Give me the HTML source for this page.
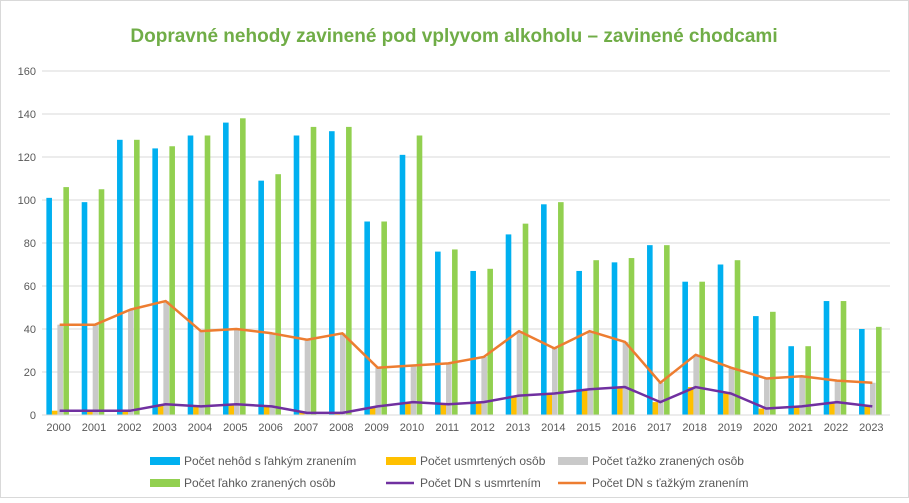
<!DOCTYPE html>
<html><head><meta charset="utf-8"><style>
body{margin:0;background:#fff;font-family:"Liberation Sans",sans-serif;}
svg text{font-family:"Liberation Sans",sans-serif;}
</style></head><body>
<svg id="c" width="909" height="498">
<rect x="0.5" y="0.5" width="908" height="497" fill="#fff" stroke="#d9d9d9"/>
<text x="454" y="42" text-anchor="middle" font-size="19" font-weight="bold" fill="#70ad47">Dopravné nehody zavinené pod vplyvom alkoholu – zavinené chodcami</text>
<g id="grid"></g><g id="bars"></g><g id="lines"></g><g id="axes"></g><g id="legend"></g>
</svg>
<script>
const years=["2000","2001","2002","2003","2004","2005","2006","2007","2008","2009","2010","2011","2012","2013","2014","2015","2016","2017","2018","2019","2020","2021","2022","2023"];
const lightInj=[101,99,128,124,130,136,109,130,132,90,121,76,67,84,98,67,71,79,62,70,46,32,53,40];
const killed=[2,2,2,5,4,5,4,1,1,4,6,5,6,9,10,12,13,6,13,10,3,4,6,4];
const seriousPersons=[42,42,49,53,39,40,38,35,38,22,23,24,27,39,31,39,34,15,28,22,17,18,16,15];
const lightPersons=[106,105,128,125,130,138,112,134,134,90,130,77,68,89,99,72,73,79,62,72,48,32,53,41];
const dnKilled=[2,2,2,5,4,5,4,1,1,4,6,5,6,9,10,12,13,6,13,10,3,4,6,4];
const dnSerious=[42,42,49,53,39,40,38,35,38,22,23,24,27,39,31,39,34,15,28,22,17,18,16,15];
const yTicks=[0,20,40,60,80,100,120,140,160];
const NS="http://www.w3.org/2000/svg";
const L=42,R=890,T=71,B=415,yMax=160;
const bw=(R-L)/years.length;
const y=v=>B-(v/yMax)*(B-T);
const xc=i=>L+bw*(i+0.5);
function mk(tag,attrs,parent){const e=document.createElementNS(NS,tag);for(const k in attrs)e.setAttribute(k,attrs[k]);document.getElementById(parent).appendChild(e);return e;}
yTicks.forEach(t=>{
 const g=mk("line",{x1:L,x2:R,y1:y(t),y2:y(t),stroke:"#d9d9d9","stroke-width":1},"grid");
 
 
 const tx=mk("text",{x:36,y:y(t)+4,"text-anchor":"end","font-size":11,fill:"#595959"},"axes");
 tx.textContent=t;
 
 
});
const series=[[lightInj,"#00b0f0"],[killed,"#ffc000"],[seriousPersons,"#c9c9c9"],[lightPersons,"#92d050"]];
const barW=5.6,offs=[-11.5,-6,-0.5,5.5];
years.forEach((yr,i)=>{
 series.forEach((s,k)=>{
  const r=mk("rect",{x:xc(i)+offs[k]-barW/2+1,y:y(s[0][i]),width:barW,height:B-y(s[0][i]),fill:s[1]},"bars");
  
  
 });
 const tx=mk("text",{x:xc(i)-1,y:431,"text-anchor":"middle","font-size":11,fill:"#595959"},"axes");
 tx.textContent=yr;
 
 
});
const ax=mk("line",{x1:L,x2:R,y1:B,y2:B,stroke:"#d9d9d9"},"axes");


[[dnKilled,"#7030a0","line-dn-killed"],[dnSerious,"#ed7d31","line-dn-serious"]].forEach(s=>{
 const p=mk("polyline",{points:s[0].map((v,i)=>xc(i)+","+y(v)).join(" "),fill:"none",stroke:s[1],"stroke-width":2.5,"stroke-linejoin":"round"},"lines");
 
 
});
const leg=[["Počet nehôd s ľahkým zranením","#00b0f0",150,465,0],["Počet usmrtených osôb","#ffc000",386,465,0],["Počet ťažko zranených osôb","#c9c9c9",558,465,0],["Počet ľahko zranených osôb","#92d050",150,487,0],["Počet DN  s usmrtením","#7030a0",386,487,1],["Počet DN s ťažkým zranením","#ed7d31",558,487,1]];
leg.forEach(e=>{
 let m;
 if(e[4]) m=mk("line",{x1:e[2],x2:e[2]+28,y1:e[3]-4,y2:e[3]-4,stroke:e[1],"stroke-width":2.5},"legend");
 else m=mk("rect",{x:e[2],y:e[3]-8,width:30,height:8,fill:e[1]},"legend");
 
 
 const t=mk("text",{x:e[2]+34,y:e[3],"font-size":12,fill:"#595959"},"legend");
 t.textContent=e[0];
 
 
});
</script>
</body></html>
